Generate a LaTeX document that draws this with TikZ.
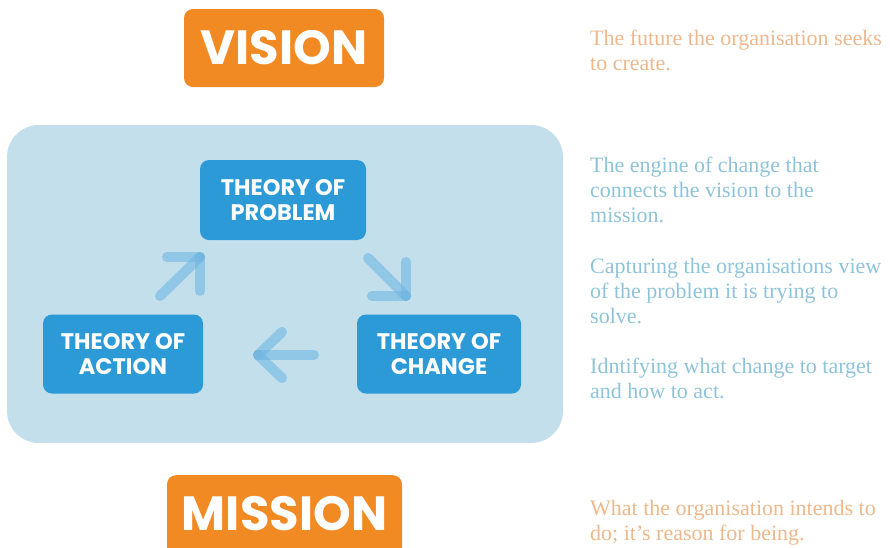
\documentclass[tikz,border=0pt]{standalone}
\usepackage{fontspec}
\setmainfont{Liberation Serif}
\newfontfamily\hdfont{Poppins}[BoldFont={Poppins Bold}]
\definecolor{orangebox}{HTML}{F28A24}
\definecolor{bluebox}{HTML}{2C9AD6}
\definecolor{panelc}{HTML}{C3DFEC}
\definecolor{arrowc}{HTML}{6FB6E2}
\definecolor{orangetxt}{HTML}{EDB88C}
\definecolor{bluetxt}{HTML}{8EC4D9}
\tikzset{
  orangebtn/.style={fill=orangebox, rounded corners=9pt, inner sep=0pt},
  bigtxt/.style={text=white, font=\hdfont\bfseries\fontsize{48}{48}\selectfont, inner sep=0pt},
  bluebtn/.style={fill=bluebox, rounded corners=9pt, text=white, font=\hdfont\bfseries\fontsize{22.5}{25}\selectfont, align=center, inner sep=0pt},
  desc/.style={anchor=base west, align=left, inner sep=0pt, font=\fontsize{22}{24.8}\selectfont},
  arr/.style={draw=arrowc, line width=10pt, line cap=round, draw opacity=0.6}
}
\begin{document}
\begin{tikzpicture}[x=1pt,y=-1pt]
\useasboundingbox (0,0) rectangle (890,547);
% vision
\node[orangebtn, minimum width=200pt, minimum height=78pt] (vision) at (284,48) {};
\node[bigtxt] (visiont) at (284,48) {VISION};
% panel
\node[fill=panelc, rounded corners=32pt, minimum width=556pt, minimum height=318pt, inner sep=0pt] (panel) at (285,284) {};
% theory boxes
\node[bluebtn, minimum width=166pt, minimum height=80pt] (prob) at (283,200) {THEORY OF\\PROBLEM};
\node[bluebtn, minimum width=160pt, minimum height=79pt] (act) at (123,354) {THEORY OF\\ACTION};
\node[bluebtn, minimum width=164pt, minimum height=79pt] (chg) at (439,354) {THEORY OF\\CHANGE};
% arrows
\coordinate (a1t) at (160,296);
\coordinate (a1h) at (200,257);
\coordinate (a1x) at (167,257);
\coordinate (a1y) at (200,291);
\draw[arr] (a1t) -- (a1h);
\draw[arr] (a1x) -- (a1h);
\draw[arr] (a1y) -- (a1h);
\coordinate (a2t) at (368,258);
\coordinate (a2h) at (406,296);
\coordinate (a2x) at (372,296);
\coordinate (a2y) at (406,262);
\draw[arr] (a2t) -- (a2h);
\draw[arr] (a2x) -- (a2h);
\draw[arr] (a2y) -- (a2h);
\coordinate (a3t) at (314,355);
\coordinate (a3h) at (258,355);
\coordinate (a3x) at (282,332);
\coordinate (a3y) at (282,378);
\draw[arr] (a3t) -- (a3h);
\draw[arr] (a3x) -- (a3h);
\draw[arr] (a3y) -- (a3h);
% mission
\node[orangebtn, minimum width=235pt, minimum height=90pt, anchor=north] (mission) at (284.5,475) {};
\node[bigtxt] (missiont) at (284.5,514) {MISSION};
% descriptions
\node[desc, text=orangetxt] (d1) at (590,70) {The future the organisation seeks\\to create.};
\node[desc, text=bluetxt] (d2) at (590,222) {The engine of change that\\connects the vision to the\\mission.};
\node[desc, text=bluetxt] (d3) at (590,323) {Capturing the organisations view\\of the problem it is trying to\\solve.};
\node[desc, text=bluetxt] (d4) at (590,398) {Idntifying what change to target\\and how to act.};
\node[desc, text=orangetxt] (d5) at (590,540) {What the organisation intends to\\do; it’s reason for being.};
\end{tikzpicture}
\end{document}
